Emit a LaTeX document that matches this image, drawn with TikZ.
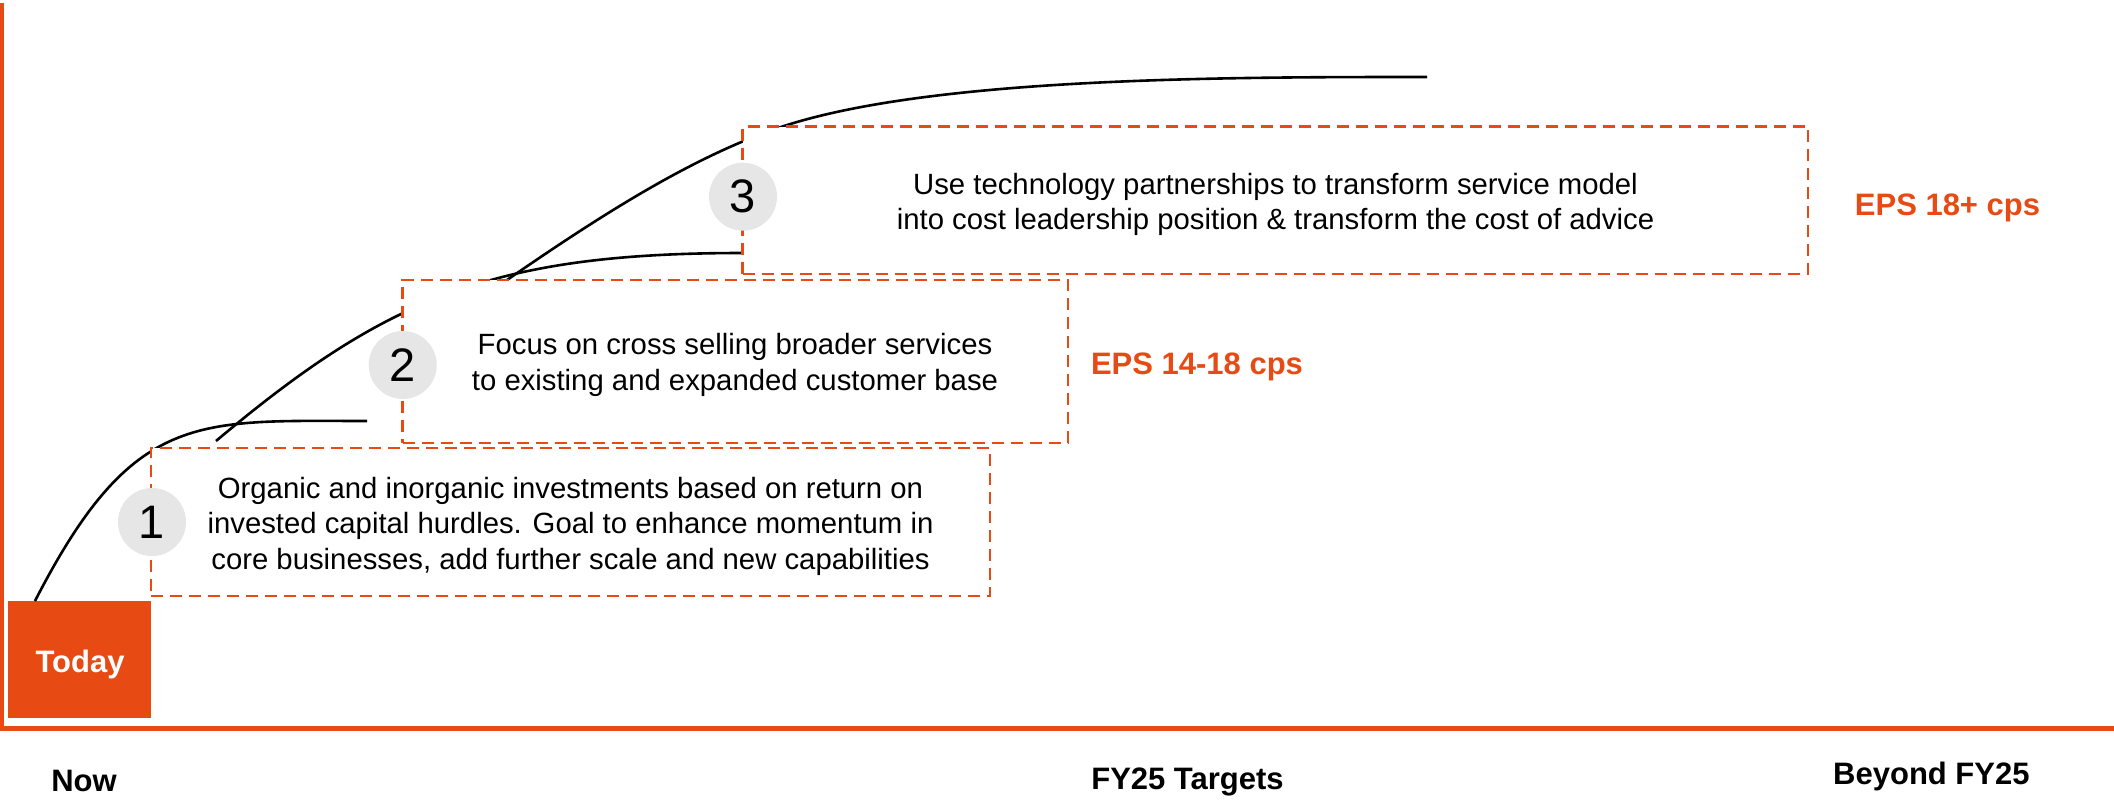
\documentclass[tikz,border=0pt]{standalone}
\usepackage{fontspec}
\setmainfont{Liberation Sans}
\definecolor{eorange}{RGB}{232,74,20}
\definecolor{cgray}{RGB}{230,230,230}
\begin{document}
\begin{tikzpicture}[x=1pt,y=-1pt,
  stepbox/.style={draw=eorange, line width=2.6pt, dash pattern=on 12pt off 7pt, fill=white, inner sep=0pt, outer sep=0pt, anchor=north west},
  curve/.style={line width=2.6pt, black},
  numdisc/.style={circle, fill=cgray, minimum size=68pt, inner sep=0pt, font=\fontsize{47}{47}\selectfont},
  bodytext/.style={inner sep=0pt, align=center, font=\fontsize{29.3}{35.5}\selectfont, anchor=base},
  boldlabel/.style={inner sep=0pt, anchor=base, font=\bfseries\fontsize{31}{31}\selectfont},
]
\useasboundingbox (0,0) rectangle (2114,803);

% axes
\coordinate (ytop) at (2,3);
\coordinate (origin) at (2,728);
\coordinate (xstart) at (0,728);
\coordinate (xend) at (2114,728);
\draw[eorange, line width=4pt] (ytop) -- (origin);
\draw[eorange, line width=5pt] (xstart) -- (xend);

% Today box
\node[fill=eorange, minimum width=143pt, minimum height=117pt, inner sep=0pt, outer sep=0pt, anchor=north west] (today) at (8,601) {};
\node[boldlabel, text=white] (todaytxt) at (80,672) {Today};

% curves
\coordinate (c1s) at (35,601);
\coordinate (c1e) at (367,421);
\coordinate (c2s) at (216,441);
\coordinate (c2e) at (743,253);
\coordinate (c3s) at (507,280);
\coordinate (c3m) at (781,127);
\coordinate (c3e) at (1427,77);
\draw[curve] (c1s) .. controls (133,410) and (197,421) .. (c1e);
\draw[curve] (c2s) .. controls (386,298) and (493,253) .. (c2e);
\draw[curve] (c3s) .. controls (597,218) and (691,157) .. (c3m)
                   .. controls (931,77) and (1227,77) .. (c3e);

% step boxes
\node[stepbox, minimum width=839pt, minimum height=148pt] (box1) at (151,448) {};
\node[stepbox, minimum width=665.3pt, minimum height=163pt] (box2) at (402.7,280) {};
\node[stepbox, minimum width=1065.3pt, minimum height=147.3pt] (box3) at (742.7,126.7) {};

% box texts (base = baseline of last line)
\node[bodytext] (t1) at (570.5,569) {Organic and inorganic investments based on return on\\invested capital hurdles. Goal to enhance momentum in\\core businesses, add further scale and new capabilities};
\node[bodytext] (t2) at (735,390) {Focus on cross selling broader services\\to existing and expanded customer base};
\node[bodytext] (t3) at (1275.5,229.5) {Use technology partnerships to transform service model\\into cost leadership position \& transform the cost of advice};

% number discs
\node[numdisc] (n1) at (152,522) {1};
\node[numdisc] (n2) at (402.7,365) {2};
\node[numdisc] (n3) at (743,196.7) {3};

% EPS labels
\node[boldlabel, text=eorange] (eps2) at (1197,374) {EPS 14-18 cps};
\node[boldlabel, text=eorange] (eps3) at (1947.5,215) {EPS 18+ cps};

% timeline labels
\node[boldlabel] (now) at (84,791.7) {Now};
\node[boldlabel] (fy25) at (1187.5,789.3) {FY25 Targets};
\node[boldlabel] (beyond) at (1931.4,784) {Beyond FY25};
\end{tikzpicture}
\end{document}
